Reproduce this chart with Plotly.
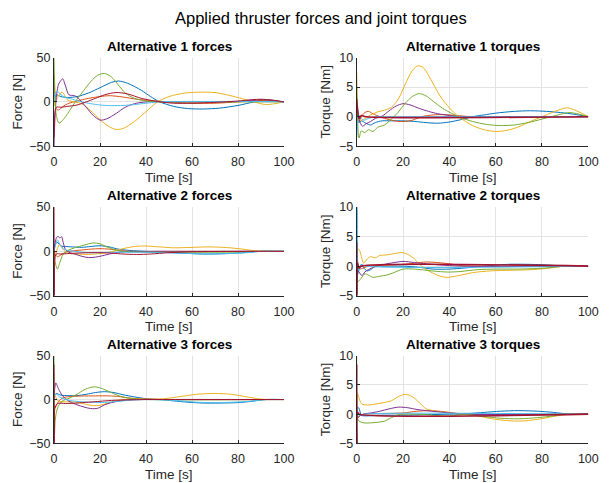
import plotly.graph_objects as go

W, H = 610, 483

COLORS = ["#0072BD", "#D95319", "#EDB120", "#7E2F8E", "#77AC30", "#4DBEEE", "#A2142F"]

# ---------------- Alternative 1 forces (blue, orange, yellow, purple, green, lightblue, darkred)
a1f_t = [
    [0, 0.3, 1, 3, 6, 10, 15, 20, 25, 28, 32, 38, 42, 46, 52, 58, 65, 72, 80, 87, 92, 100],
    [0, 0.3, 1, 2, 4, 6, 10, 15, 20, 24, 30, 36, 42, 50, 60, 70, 80, 90, 100],
    [0, 0.3, 1.5, 3.5, 6, 9, 12, 16, 20, 24, 27, 30, 35, 40, 45, 50, 57, 64, 70, 76, 82, 87, 92, 96, 100],
    [0, 0.3, 1, 2, 3, 3.8, 5, 6.5, 9, 11, 14, 17, 20, 23, 27, 31, 35, 40, 50, 60, 70, 80, 88, 92, 96, 100],
    [0, 0.3, 1, 2.2, 4, 6, 8, 10, 13, 16, 19, 22, 25, 28, 31, 35, 40, 45, 55, 70, 85, 100],
    [0, 0.5, 1.5, 3, 5, 8, 12, 16, 20, 25, 30, 35, 40, 45, 55, 70, 85, 100],
    [0, 0.3, 1, 3, 6, 10, 14, 18, 22, 27, 32, 38, 45, 52, 60, 70, 80, 86, 90, 95, 100],
]
a1f_y = [
    [10, 5, 8, 6, 5, 6, 10, 16, 22, 23.5, 21, 13, 6, 0, -5, -7.5, -8, -7, -4, 0, 1.5, 0],
    [30, 10, -8, -9, -5, -2, 1, 4, 6, 7, 5.5, 3, 1.5, 0, -1.5, -1.5, 0, 1.5, 0],
    [-5, -2, 5, 11, 2, 0, -2, -10, -20, -28, -31, -30, -22, -11, 0, 6, 10, 11, 10.5, 7.5, 3.5, 0, -3, -2, 0],
    [-50, -25, 5, 20, 24, 26, 18, 8, 7, 3, -6, -15, -20.5, -19, -13, -6, -2, 0, 0, 0, 0, 0.5, 2, 2.5, 1.5, 0],
    [50, 20, -15, -24, -20, -13, -5, 3, 13, 23, 30, 32, 28, 19, 10, 4, 1, 0, 0, 0, 0, 0],
    [0, 10, 12, 8, 5, 3, 0, -2, -3.5, -4.2, -4, -3, -1.5, 0, 0.5, 0.5, 0.5, 0],
    [-40, -15, -6, -6, -5, -3.5, 0, 4, 8, 10.6, 9, 4, 0.5, -1.5, -1.5, -0.5, 1, 2.5, 3, 2, 0],
]

# ---------------- Alternative 1 torques
a1t_t = [
    [0, 0.3, 1, 2, 4, 6, 8, 11, 15, 20, 25, 30, 35, 40, 45, 50, 55, 60, 68, 75, 82, 88, 94, 100],
    [0, 0.3, 1, 2, 3.5, 5, 7, 10, 14, 18, 21, 24, 28, 33, 38, 43, 50, 70, 100],
    [0, 0.3, 1, 2, 4, 6, 9, 12, 15, 18, 21, 24, 26.5, 29, 32, 36, 40, 44, 50, 55, 60, 65, 70, 75, 80, 85, 91, 96, 100],
    [0, 0.3, 1, 2.5, 4, 6, 8, 11, 14, 17, 20, 23, 27, 31, 35, 40, 45, 60, 80, 100],
    [0, 0.3, 1, 2, 3.5, 5, 7, 9, 12, 15, 18, 21, 24, 27, 30, 34, 38, 44, 50, 56, 62, 68, 74, 80, 86, 92, 100],
    [0, 0.3, 1, 2, 3, 5, 8, 12, 100],
    [0, 0.3, 1, 2, 4, 100],
]
a1t_y = [
    [-2, -0.5, -1, -0.7, -1.1, -1.4, -1, -0.7, -0.7, -0.7, -0.8, -1, -1.1, -0.9, -0.5, 0, 0.3, 0.6, 0.9, 1, 0.9, 0.7, 0.4, 0],
    [3, 1, -0.8, 0, 0.7, 0.9, 0.5, 0, -0.5, -0.8, -0.8, -0.6, 0, 0.3, 0.35, 0.2, 0, 0, 0],
    [7.5, 3, -0.5, -0.6, -0.2, 0.3, 0.8, 1.1, 1.6, 3, 5.5, 7.8, 8.6, 8.2, 6.3, 3.5, 1.5, 0, -1.5, -2.2, -2.5, -2.3, -1.7, -0.8, 0, 0.8, 1.5, 0.8, 0],
    [2, 1.5, -0.5, -1.6, -1.2, -0.8, -0.3, 0.1, 1, 1.8, 2.2, 2, 1.4, 0.9, 0.5, 0.2, 0, 0, 0, 0],
    [5, 0, -3.6, -2.4, -2.7, -2.2, -2.5, -1.8, -1.4, -0.4, 0.8, 2.3, 3.4, 3.9, 3.5, 2.3, 1.2, 0, -0.8, -1.3, -1.5, -1.4, -1, -0.4, 0.2, 0.7, 0],
    [-3.5, -2, 0.3, -0.3, -0.6, -0.3, 0, 0, 0],
    [3, 1.5, -0.3, 0.2, 0, 0],
]

# ---------------- Alternative 2 forces
a2f_t = [
    [0, 0.5, 1.5, 3, 5, 8, 12, 16, 20, 24, 28, 33, 40, 47, 55, 65, 75, 82, 90, 100],
    [0, 0.5, 1.5, 3, 5, 8, 12, 16, 20, 24, 28, 35, 50, 100],
    [0, 0.5, 1.5, 2.5, 4, 6, 10, 15, 20, 25, 30, 35, 40, 46, 52, 60, 67, 75, 82, 88, 100],
    [0, 0.3, 1, 1.8, 2.5, 3.3, 4, 5, 6.5, 9, 12, 15, 18, 21, 25, 30, 40, 60, 100],
    [0, 0.3, 1.5, 2.5, 4, 6, 9, 13, 17, 20, 23, 27, 32, 40, 50, 60, 70, 80, 90, 100],
    [0, 0.5, 1.5, 2.5, 4, 6, 9, 14, 20, 26, 32, 40, 50, 60, 68, 76, 84, 90, 100],
    [0, 0.15, 0.35, 1, 3, 6, 10, 15, 20, 25, 30, 36, 42, 50, 60, 80, 100],
]
a2f_y = [
    [0, 8, 10, 6, 5.5, 5, 4.5, 5.5, 6.3, 5, 2.5, 1, 0, -1, -2, -3, -2.5, -1.5, 0, 0],
    [5, -3, -6, -4, -1, 0.5, 1.5, 2.5, 3, 2.5, 1, 0, 0, 0],
    [0, -5, 3, 8, 2, -2, -3, -3.5, -2.5, -0.5, 3, 5.5, 6, 5, 4, 4.5, 5, 4.3, 2.5, 0.5, 0],
    [-10, 5, 15, 17, 15, 16.5, 10, 2, -1, -3, -5.5, -7, -6.5, -5, -2.5, -0.5, 0, 0, 0],
    [0, -10, -20, -13, -3, 1, 4, 7, 9.5, 8.5, 5, 1.5, -0.5, -1, -1, -1, -1, -0.8, 0, 0],
    [0, 6, 13, 8, 3, 1, 0, -1.5, -1.5, -1, -1, -1, -1.5, -2.5, -3, -2.5, -1.5, 0, 0],
    [50, -50, -10, -3, -3, -2.5, -2, -1.5, -1.5, -2, -3, -3.5, -3, -1.5, -0.5, 0, 0],
]

# ---------------- Alternative 2 torques
a2t_t = [
    [0, 0.3, 1, 2, 3, 4.5, 6, 8, 12, 20, 27, 33, 40, 47, 55, 65, 75, 82, 90, 100],
    [0, 0.3, 1, 3, 6, 10, 15, 20, 25, 30, 35, 40, 45, 55, 100],
    [0, 0.3, 1, 1.8, 3, 4.5, 6, 8, 10, 13, 16, 19.5, 22, 25, 28, 32, 36, 39, 44, 50, 58, 66, 75, 82, 90, 100],
    [0, 0.3, 1, 2.3, 3.5, 5, 8, 12, 16, 20, 25, 30, 36, 45, 100],
    [0, 0.3, 1, 2, 3.5, 5, 7, 10, 13, 16, 20, 25, 30, 35, 40, 45, 52, 60, 70, 78, 85, 90, 100],
    [0, 0.15, 0.5, 1, 2, 4, 100],
    [0, 0.15, 0.4, 1, 2, 100],
]
a2t_y = [
    [0, -1.5, -0.5, 0.3, -0.3, -0.8, -0.6, 0, 0, 0, -0.2, -0.5, -0.5, -0.3, 0, 0.3, 0.3, 0.2, 0, 0],
    [0, 1, -0.5, -0.3, 0.1, 0.1, 0.2, 0.3, 0.5, 0.7, 0.6, 0.4, 0.1, 0, 0],
    [0, 2.8, 2.8, 2, 0.5, 1.2, 1.6, 1.4, 1.8, 1.9, 2.1, 2.3, 2, 1.2, 0, -1, -1.7, -1.9, -1.6, -1.1, -0.8, -0.7, -0.6, -0.4, 0, 0],
    [0, -0.5, -1, -1.6, -1, -0.6, -0.1, 0.3, 0.6, 0.8, 0.6, 0.4, 0.2, 0, 0],
    [0, -2.6, -2.5, -2, -1.3, -1.5, -1.9, -1.7, -1.5, -1.1, -0.5, -0.5, -0.7, -0.9, -1, -0.9, -0.6, -0.5, -0.5, -0.4, -0.2, 0, 0],
    [10, 10, 0, -0.8, 0.3, 0, 0],
    [4, -5, 0.5, -0.3, 0, 0],
]

# ---------------- Alternative 3 forces
a3f_t = [
    [0, 0.3, 1, 3, 6, 10, 14, 18, 22, 26, 30, 35, 40, 46, 52, 58, 65, 72, 80, 86, 92, 100],
    [0, 0.2, 0.8, 2, 4, 7, 12, 18, 24, 28, 32, 36, 42, 50, 100],
    [0, 0.3, 1.5, 3, 6, 10, 14, 17, 20, 23, 26, 30, 36, 42, 48, 55, 62, 70, 77, 84, 90, 100],
    [0, 0.2, 0.8, 2, 3.5, 5, 7, 10, 13, 16, 19, 22, 25, 28, 32, 38, 50, 100],
    [0, 0.2, 0.5, 1, 2, 3.5, 5, 7, 10, 13, 16, 18, 21, 24, 27, 30, 34, 40, 100],
    [0, 0.3, 1, 2.5, 5, 8, 12, 16, 20, 24, 28, 33, 40, 48, 55, 62, 70, 78, 85, 92, 100],
    [0, 0.15, 0.4, 1.5, 5, 10, 15, 20, 25, 30, 40, 100],
]
a3f_y = [
    [0, 5, 7, 5, 4.5, 4.5, 6, 8, 9, 8, 5.5, 3, 1, 0, -1.5, -3, -4, -4, -3.5, -2, 0, 0],
    [30, -10, -8, -2, 2, 3.5, 4, 4.2, 4.2, 3.5, 2, 1, 0.5, 0, 0],
    [0, 5, -1, -2.5, -2.5, -3, -5.5, -7, -6.5, -4.5, -2, 0, 0.5, 0.3, 1, 3.5, 6, 7, 6, 3, 0.5, 0],
    [0, 10, 19, 12, 5, 1, -2.7, -6, -8.5, -10.3, -10, -6, -3.5, -1.8, -0.5, 0, 0, 0],
    [50, -40, -25, -15, -7, -2, 0, 2, 6, 11, 14, 14.5, 12.5, 9, 5.5, 3, 1, 0, 0],
    [0, 5, 6, 3, 0, -1.5, -2.5, -3, -3.4, -3, -2, -0.8, 0, -0.5, -1.5, -3, -3.5, -3, -2, 0, 0],
    [40, -50, -10, -4.5, -4.5, -4, -3, -2, -1, -0.5, 0, 0],
]

# ---------------- Alternative 3 torques
a3t_t = [
    [0, 0.3, 1, 2, 4, 10, 20, 30, 40, 48, 55, 62, 70, 78, 85, 92, 100],
    [0, 0.3, 1, 3, 10, 20, 26, 32, 38, 44, 50, 100],
    [0, 0.3, 1, 2, 3.5, 6, 9, 12, 15, 18, 21, 24, 27, 30, 33, 38, 45, 52, 60, 70, 78, 85, 92, 100],
    [0, 0.3, 1, 3, 6, 10, 14, 18, 22, 26, 30, 35, 40, 45, 100],
    [0, 0.2, 0.6, 1.5, 3, 6, 9, 12, 15, 18, 21, 27, 33, 40, 47, 55, 62, 70, 78, 85, 90, 100],
    [0, 0.3, 1, 3, 100],
    [0, 0.15, 0.4, 1, 100],
]
a3t_y = [
    [0, 1.2, 1, -0.2, -0.3, -0.2, -0.2, -0.1, 0, 0.1, 0.3, 0.5, 0.6, 0.5, 0.3, 0, 0],
    [0, -0.5, -0.3, 0, 0.1, 0.2, 0.5, 0.6, 0.4, 0.1, 0, 0],
    [0, 3.5, 2.8, 1.8, 1.6, 1.6, 1.8, 2, 2.3, 3, 3.4, 3, 2, 0.9, 0.6, 0.3, 0, -0.3, -0.9, -1.2, -0.9, -0.4, 0, 0],
    [0, -0.8, -0.4, 0, 0.2, 0.5, 0.9, 1.2, 1.1, 0.8, 0.6, 0.4, 0.2, 0, 0],
    [10, -0.5, -1, -1.3, -1.5, -1.5, -1.4, -1.2, -0.6, -0.1, 0, 0, -0.2, -0.3, -0.1, -0.4, -0.7, -0.8, -0.6, -0.3, 0, 0],
    [0, 0.5, -0.2, 0, 0],
    [8.5, -5, 0.3, 0, 0],
]

TITLES = ["Alternative 1 forces", "Alternative 1 torques",
          "Alternative 2 forces", "Alternative 2 torques",
          "Alternative 3 forces", "Alternative 3 torques"]
X_TICKS = [0, 20, 40, 60, 80, 100]
FORCE_TICKS = [-50, 0, 50]
TORQUE_TICKS = [-5, 0, 5, 10]

panels = [(a1f_t, a1f_y, "f"), (a1t_t, a1t_y, "t"),
          (a2f_t, a2f_y, "f"), (a2t_t, a2t_y, "t"),
          (a3f_t, a3f_y, "f"), (a3t_t, a3t_y, "t")]

# pixel layout
col_px = [(54, 284), (356.7, 588.3)]
row_px = [(57.5, 146.3), (207.0, 295.7), (355.8, 443.3)]

def px_x(p):
    return p / W

def px_y(p):
    return 1 - p / H

FONT = "Liberation Sans, Arial, Helvetica, sans-serif"
AX = "#262626"
GRID = "#e3e3e3"

fig = go.Figure()
layout = dict(
    width=W, height=H, margin=dict(l=0, r=0, t=0, b=0, pad=0), autosize=False,
    paper_bgcolor="white", plot_bgcolor="white",
    showlegend=False, font=dict(family=FONT, color=AX, size=12),
)
annotations = []

for i, (tt, yy, kind) in enumerate(panels):
    r, c = divmod(i, 2)
    n = i + 1
    xa = "x" if n == 1 else f"x{n}"
    ya = "y" if n == 1 else f"y{n}"
    for k in range(len(tt)):
        fig.add_trace(go.Scatter(
            x=tt[k], y=yy[k], mode="lines", xaxis=xa, yaxis=ya,
            line=dict(color=COLORS[k], width=1.6 if k == 6 and kind == "t" else 1.0,
                      shape="spline", smoothing=0.8),
            hoverinfo="skip"))
    x0, x1 = col_px[c]
    y0, y1 = row_px[r]
    xkey = "xaxis" if n == 1 else f"xaxis{n}"
    ykey = "yaxis" if n == 1 else f"yaxis{n}"
    layout[xkey] = dict(
        domain=[px_x(x0), px_x(x1)], anchor=ya, range=[0, 100], automargin=False,
        tickvals=X_TICKS, ticks="inside", ticklen=3, tickcolor=AX,
        showline=True, linecolor=AX, linewidth=1, showgrid=True, gridcolor=GRID,
        zeroline=False, tickfont=dict(size=12.5, color=AX), ticklabelstandoff=4,
        fixedrange=True)
    if kind == "f":
        yr, yt = [-50, 50], FORCE_TICKS
        ylab = "Force [N]"
        ylx = x0 - 36.5
    else:
        yr, yt = [-5, 10], TORQUE_TICKS
        ylab = "Torque [Nm]"
        ylx = x0 - 31
    layout[ykey] = dict(
        domain=[px_y(y1), px_y(y0)], anchor=xa, range=yr, automargin=False,
        tickvals=yt, ticks="inside", ticklen=3, tickcolor=AX,
        showline=True, linecolor=AX, linewidth=1, showgrid=True, gridcolor=GRID,
        zeroline=False, tickfont=dict(size=12.5, color=AX), fixedrange=True)
    cx = (x0 + x1) / 2
    annotations.append(dict(text="<b>" + TITLES[i] + "</b>", x=px_x(cx), y=px_y(y0 - 11.5),
                            xref="paper", yref="paper", showarrow=False,
                            xanchor="center", yanchor="middle",
                            font=dict(size=13.5, color="black", family=FONT)))
    annotations.append(dict(text="Time [s]", x=px_x(cx), y=px_y(y1 + 31),
                            xref="paper", yref="paper", showarrow=False,
                            xanchor="center", yanchor="middle",
                            font=dict(size=13.5, color=AX, family=FONT)))
    annotations.append(dict(text=ylab, x=px_x(ylx), y=px_y((y0 + y1) / 2),
                            xref="paper", yref="paper", showarrow=False, textangle=-90,
                            xanchor="center", yanchor="middle",
                            font=dict(size=13.5, color=AX, family=FONT)))

annotations.append(dict(text="Applied thruster forces and joint torques", x=px_x(321), y=px_y(18),
                        xref="paper", yref="paper", showarrow=False,
                        xanchor="center", yanchor="middle",
                        font=dict(size=16.5, color="black", family=FONT)))
layout["annotations"] = annotations
fig.update_layout(**layout)
fig.write_html("out.html")
